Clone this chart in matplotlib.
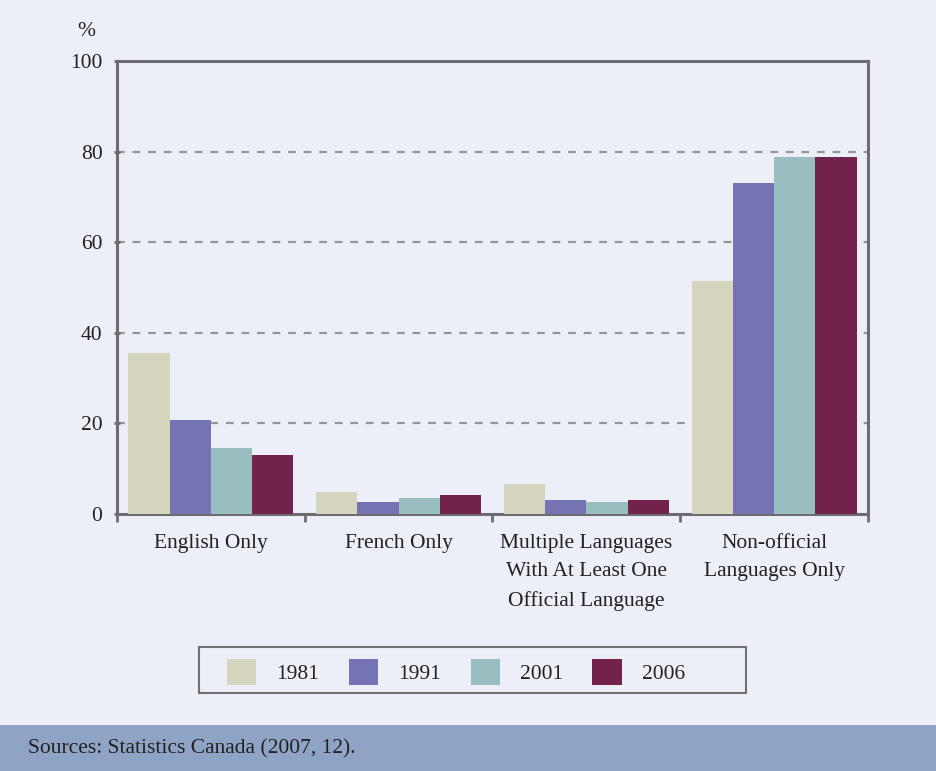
import matplotlib
matplotlib.use("Agg")
import matplotlib.pyplot as plt
import numpy as np
from matplotlib.patches import Rectangle

plt.rcParams['font.family'] = ['Liberation Serif', 'DejaVu Serif']

categories = ["English Only", "French Only",
              "Multiple Languages\nWith At Least One\nOfficial Language",
              "Non-official\nLanguages Only"]
years = ["1981", "1991", "2001", "2006"]
values = {
    "1981": [35.5, 4.9, 6.6, 51.4],
    "1991": [20.7, 2.6, 3.2, 73.1],
    "2001": [14.6, 3.5, 2.7, 78.8],
    "2006": [13.0, 4.2, 3.1, 78.8],
}
colors = ["#d5d5bd", "#7673b4", "#99bec0", "#73234b"]
yticks = [0, 20, 40, 60, 80, 100]

bg = "#eceff7"
axis_col = "#6d6d70"
text_col = "#222222"
fs = 15.5

W, H = 937, 771
fig = plt.figure(figsize=(W / 100, H / 100), dpi=100, facecolor=bg)

ax = fig.add_axes([117 / W, 1 - 514 / H, (868 - 117) / W, (514 - 61) / H])
ax.set_facecolor(bg)

x = np.arange(len(categories))
bw = 0.22
handles = []
for i, (yr, col) in enumerate(zip(years, colors)):
    h = ax.bar(x + (i - 1.5) * bw, values[yr], width=bw, color=col, label=yr,
               zorder=3, linewidth=0)
    handles.append(h)

ax.set_xlim(-0.5, len(categories) - 0.5)
ax.set_ylim(0, 100)
ax.set_yticks(yticks)
ax.set_yticklabels([str(t) for t in yticks], fontsize=fs, color=text_col)
for t in yticks[1:-1]:
    ax.axhline(t, color="#969698", lw=1.6, ls=(0, (3.5, 3.5)), zorder=1)

ax.set_xticks(np.arange(-0.5, len(categories), 1.0))
ax.set_xticklabels([])
ax.tick_params(axis="x", length=6, width=2, color=axis_col, direction="out")
ax.tick_params(axis="y", length=5, width=2, color=axis_col, direction="inout",
               pad=8)
for sp in ax.spines.values():
    sp.set_color(axis_col)
    sp.set_linewidth(2.2)

for xi, lab in zip(x, categories):
    ax.text(xi, -4.5, lab, ha="center", va="top", fontsize=fs,
            color=text_col, linespacing=1.63)

fig.text(86 / W, 1 - 31 / H, "%", ha="center", va="center", fontsize=fs,
         color=text_col)

# legend: entries laid out by matplotlib, box drawn separately
leg = fig.legend(handles=handles, labels=years, loc="center",
                 bbox_to_anchor=(456 / W, 1 - 672 / H),
                 ncol=4, frameon=False, fontsize=fs, handlelength=1.35,
                 handleheight=1.45, columnspacing=1.38, handletextpad=0.93)
for t in leg.get_texts():
    t.set_color(text_col)
fig.patches.append(Rectangle((199 / W, 1 - 693 / H), (746 - 199) / W,
                             (693 - 647) / H, transform=fig.transFigure,
                             facecolor=bg, edgecolor="#707070", lw=1.5,
                             zorder=0))

fig.patches.append(Rectangle((0, 0), 1, 46 / H, transform=fig.transFigure,
                             facecolor="#8fa3c5", edgecolor="none", zorder=0))
fig.text(28 / W, 22 / H, "Sources: Statistics Canada (2007, 12).",
         ha="left", va="center", fontsize=fs, color=text_col)

fig.savefig("out.png", dpi=100, facecolor=bg)
